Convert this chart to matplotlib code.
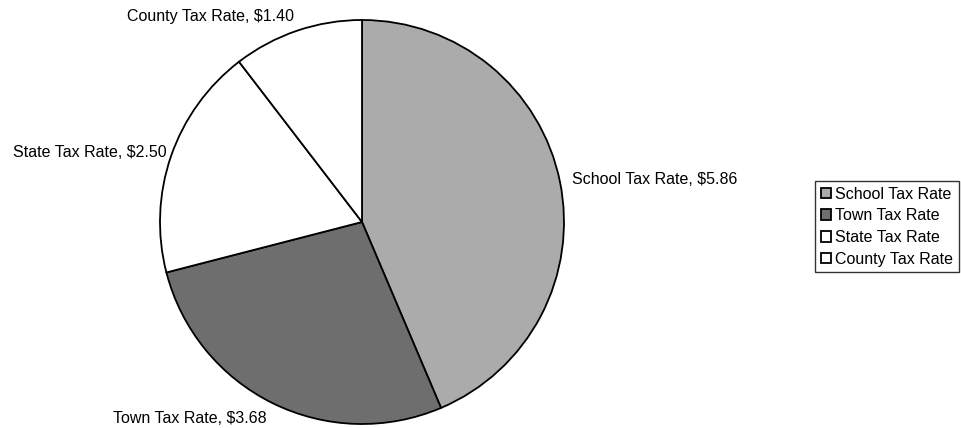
import matplotlib.pyplot as plt

labels = ["School Tax Rate", "Town Tax Rate", "State Tax Rate", "County Tax Rate"]
rates = [5.86, 3.68, 2.50, 1.40]
colors = ["#ababab", "#6e6e6e", "#ffffff", "#ffffff"]

plt.rcParams['font.family'] = ['Liberation Sans', 'DejaVu Sans']

fig = plt.figure(figsize=(9.61, 4.28), dpi=100)
ax = fig.add_axes([160 / 961, 4 / 428, 404 / 961, 404 / 428])

texts = [f"{lab}, ${val:.2f}" for lab, val in zip(labels, rates)]
wedges, label_texts = ax.pie(rates, colors=colors, startangle=90, counterclock=False,
                             labels=texts, labeldistance=1.05,
                             wedgeprops=dict(edgecolor="black", linewidth=1.3),
                             textprops=dict(fontsize=11.5, color="black"))
ax.set_xlim(-1, 1)
ax.set_ylim(-1, 1)
ax.set_aspect('equal')

# place the labels like the original
label_pos = [(1.04, 0.208, 'left'), (-0.47, -0.975, 'right'),
             (-0.965, 0.346, 'right'), (-0.752, 1.015, 'center')]
for t, (x, y, ha) in zip(label_texts, label_pos):
    t.set_position((x, y))
    t.set_horizontalalignment(ha)
    t.set_verticalalignment('center')

leg = fig.legend(wedges, labels, loc='upper right', bbox_to_anchor=(959 / 961, 1 - 181 / 428),
                 fontsize=11.5, frameon=True, fancybox=False, edgecolor='black',
                 handlelength=0.65, handleheight=0.65, handletextpad=0.25,
                 borderpad=0.35, labelspacing=0.42, borderaxespad=0)
leg.get_frame().set_linewidth(1.0)

fig.savefig("out.png", dpi=100)
